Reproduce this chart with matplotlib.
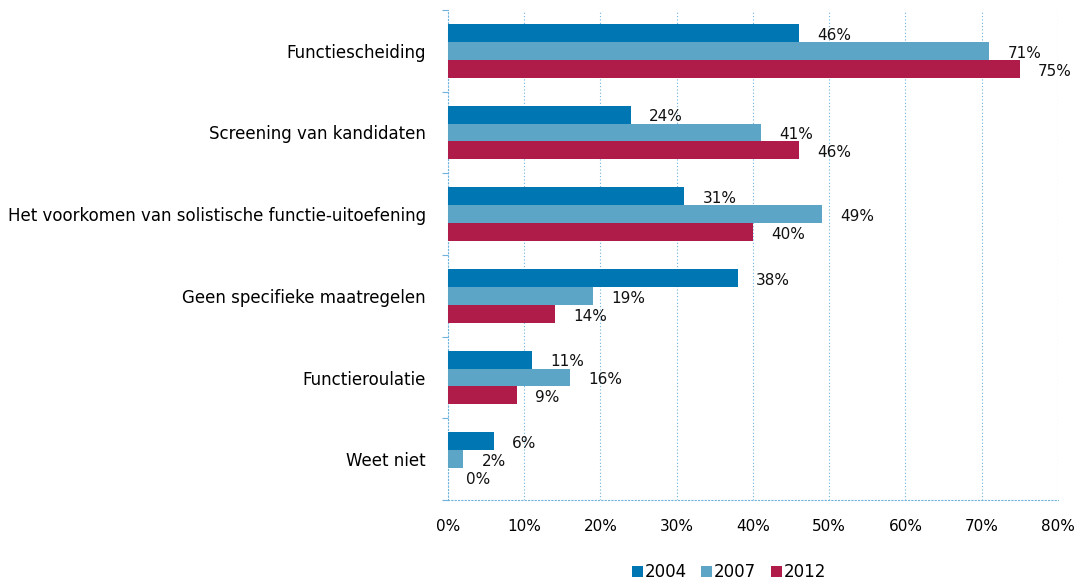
import numpy as np
import matplotlib.pyplot as plt

categories = ["Functiescheiding", "Screening van kandidaten",
              "Het voorkomen van solistische functie-uitoefening",
              "Geen specifieke maatregelen", "Functieroulatie", "Weet niet"]
years = ["2004", "2007", "2012"]
v2004 = [46, 24, 31, 38, 11, 6]
v2007 = [71, 41, 49, 19, 16, 2]
v2012 = [75, 46, 40, 14, 9, 0]
colors = ["#0077b3", "#5da5c6", "#b01c4a"]

plt.rcParams['font.family'] = ['DejaVu Sans']
grid_col = "#6fb3dc"

fig = plt.figure(figsize=(10.81, 5.8), dpi=100)
ax = fig.add_axes([0.4144, 0.1379, 0.5643, 0.8449])

y = np.arange(len(categories))
h = 0.22
for i, (vals, yr) in enumerate(zip([v2004, v2007, v2012], years)):
    pos = y + (i - 1) * h
    ax.barh(pos, vals, height=h, color=colors[i], label=yr, linewidth=0, zorder=3)
    for p, v in zip(pos, vals):
        ax.text(v + 2.4, p + 0.03, f"{v}%", va="center", ha="left",
                fontsize=11, color="#111111", zorder=4)

ax.set_xlim(0, 80)
ax.set_ylim(len(categories) - 0.5, -0.5)
ax.set_xticks(np.arange(0, 81, 10))
ax.set_xticklabels([f"{t}%" for t in range(0, 81, 10)], fontsize=11)
ax.set_yticks(y)
ax.set_yticklabels(categories, fontsize=12)
ax.set_yticks(np.arange(-0.5, len(categories), 1), minor=True)
ax.tick_params(axis="y", which="major", length=0, pad=16)
ax.tick_params(axis="y", which="minor", length=4, color=grid_col, width=0.8)
ax.tick_params(axis="x", length=0, pad=14)

ax.grid(axis="x", color=grid_col, linestyle=(0, (1, 2)), linewidth=0.8, zorder=0)
for s in ["top", "right"]:
    ax.spines[s].set_visible(False)
for s in ["left", "bottom"]:
    ax.spines[s].set_color(grid_col)
    ax.spines[s].set_linestyle((0, (1, 2)))
    ax.spines[s].set_linewidth(0.8)

fig.legend(loc="center", bbox_to_anchor=(729 / 1081, 1 - 572 / 580), ncol=3,
           frameon=False, fontsize=12, handlelength=0.66, handleheight=0.66,
           handletextpad=0.1, columnspacing=0.9)

fig.savefig("out.png", dpi=100)
